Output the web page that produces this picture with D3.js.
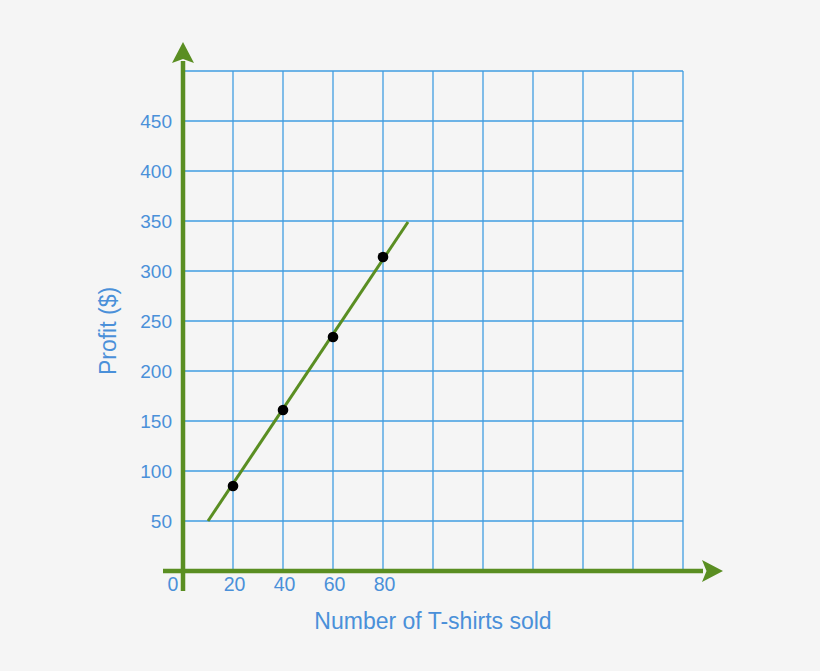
<!DOCTYPE html>
<html>
<head>
<meta charset="utf-8">
<script src="https://cdn.jsdelivr.net/npm/d3@7"></script>
<style>
  html, body { margin: 0; padding: 0; background: #f5f5f5; }
  svg { display: block; }
  text { font-family: "Liberation Sans", Arial, Helvetica, sans-serif; fill: #4a90d9; }
</style>
</head>
<body>
<svg id="chart" width="820" height="671"></svg>
<script>
// data
const shirts = [20, 40, 60, 80];
const profit = [85, 161, 234, 314];
// trend line ends
const lineShirts = [10, 90];
const lineProfit = [50, 349];
// tick labels
const xTicks = [0, 20, 40, 60, 80];
const yTicks = [50, 100, 150, 200, 250, 300, 350, 400, 450];
const xGrid = [20, 40, 60, 80, 100, 120, 140, 160, 180, 200];
const yGrid = [50, 100, 150, 200, 250, 300, 350, 400, 450, 500];

const green = '#5a8e22';
const gridBlue = '#3f9ce0';

const svg = d3.select('#chart');

const x = d3.scaleLinear().domain([0, 200]).range([183, 683]);
const y = d3.scaleLinear().domain([0, 500]).range([571, 71]);

// grid
svg.append('g').selectAll('line')
    .data(xGrid)
    .join('line')
    .attr('x1', d => x(d)).attr('x2', d => x(d))
    .attr('y1', y(0)).attr('y2', y(500))
    .attr('stroke', gridBlue).attr('stroke-width', 1.3);

svg.append('g').selectAll('line')
    .data(yGrid)
    .join('line')
    .attr('x1', x(0)).attr('x2', x(200))
    .attr('y1', d => y(d)).attr('y2', d => y(d))
    .attr('stroke', gridBlue).attr('stroke-width', 1.3);

// axes with arrows
svg.append('line')
    .attr('x1', x(0)).attr('x2', x(0))
    .attr('y1', y(-20)).attr('y2', y(510))
    .attr('stroke', green).attr('stroke-width', 4.5);

svg.append('line')
    .attr('x1', x(-8)).attr('x2', x(208))
    .attr('y1', y(0)).attr('y2', y(0))
    .attr('stroke', green).attr('stroke-width', 4.5);

const yTip = y(529), yBase = y(508), yNotch = y(512);
svg.append('path')
    .attr('d', `M${x(0)},${yTip} L${x(0) + 11},${yBase} L${x(0)},${yNotch} L${x(0) - 11},${yBase} Z`)
    .attr('fill', green);

const xTip = x(216), xBase = x(207.6), xNotch = x(209.4);
svg.append('path')
    .attr('d', `M${xTip},${y(0)} L${xBase},${y(0) - 11} L${xNotch},${y(0)} L${xBase},${y(0) + 11} Z`)
    .attr('fill', green);

// tick labels
svg.append('g').selectAll('text')
    .data(yTicks)
    .join('text')
    .attr('x', x(0) - 11)
    .attr('y', d => y(d) + 6.5)
    .attr('text-anchor', 'end')
    .style('font-size', '19px')
    .text(d => d);

svg.append('g').selectAll('text')
    .data(xTicks)
    .join('text')
    .attr('x', d => d === 0 ? x(0) - 10 : x(d) + 1.5)
    .attr('y', y(0) + 19.5)
    .attr('text-anchor', 'middle')
    .style('font-size', '19.5px')
    .text(d => d);

// axis titles
svg.append('text')
    .attr('x', 433)
    .attr('y', 629)
    .attr('text-anchor', 'middle')
    .style('font-size', '23px')
    .text('Number of T-shirts sold');

svg.append('text')
    .attr('transform', 'translate(116,331) rotate(-90)')
    .attr('text-anchor', 'middle')
    .style('font-size', '23px')
    .text('Profit ($)');

// trend line
svg.append('line')
    .attr('x1', x(lineShirts[0])).attr('y1', y(lineProfit[0]))
    .attr('x2', x(lineShirts[1])).attr('y2', y(lineProfit[1]))
    .attr('stroke', green).attr('stroke-width', 3);

// points
svg.append('g').selectAll('circle')
    .data(shirts.map((s, i) => ({ s: s, p: profit[i] })))
    .join('circle')
    .attr('cx', d => x(d.s))
    .attr('cy', d => y(d.p))
    .attr('r', 5.3)
    .attr('fill', '#000');
</script>
</body>
</html>
